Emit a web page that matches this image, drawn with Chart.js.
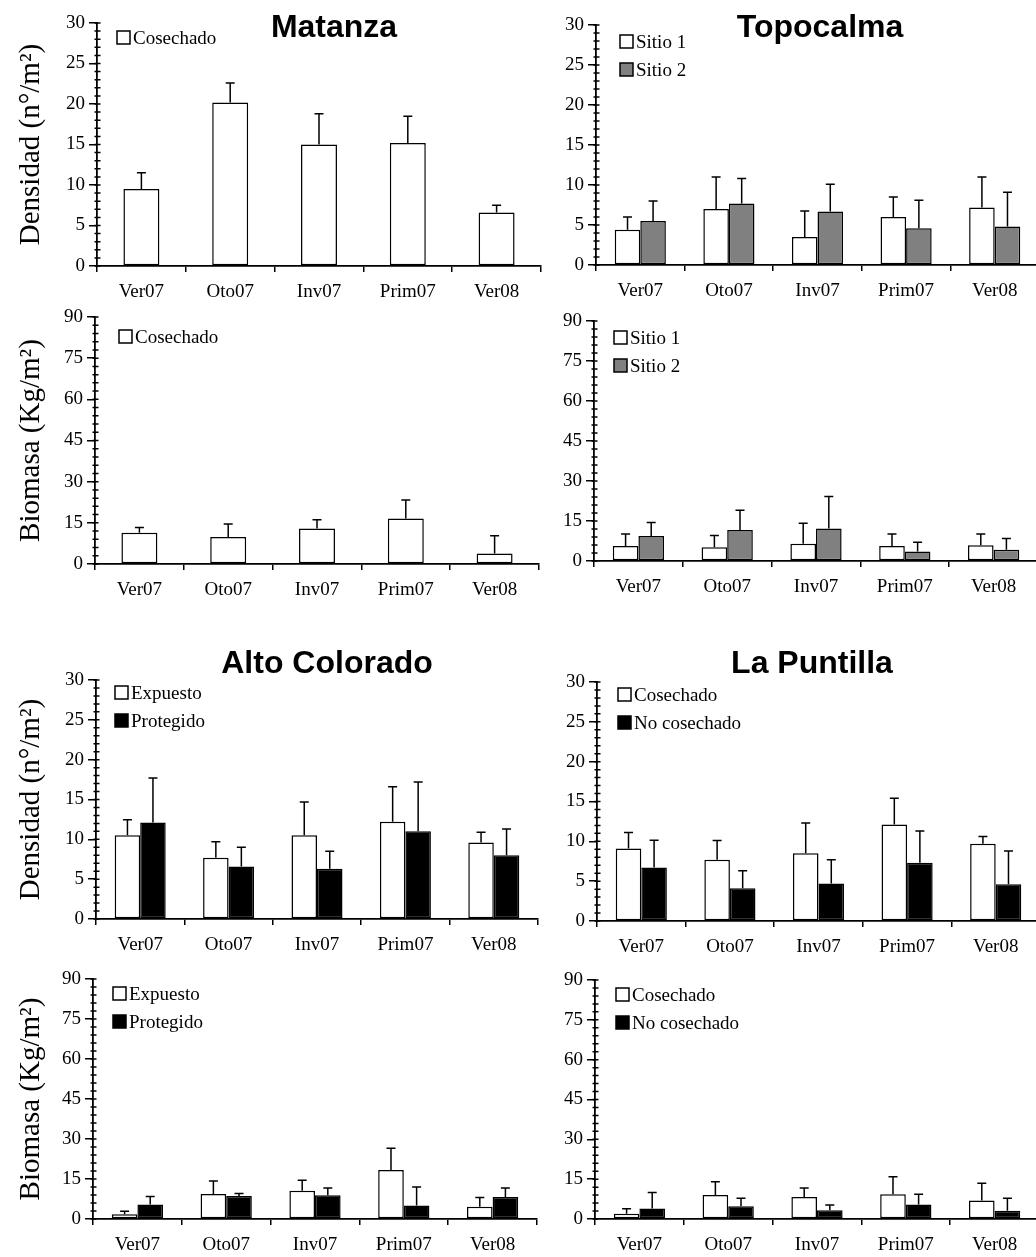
<!DOCTYPE html>
<html>
<head>
<meta charset="utf-8">
<script src="https://cdn.jsdelivr.net/npm/chart.js@4.4.0/dist/chart.umd.min.js"></script>
<style>
html, body { margin: 0; padding: 0; background: #fff; overflow: hidden; }
#page { position: relative; width: 1036px; height: 1257px; overflow: hidden; }
#page canvas { position: absolute; }
</style>
</head>
<body>
<div id="page"></div>
<script>
const categories = ['Ver07', 'Oto07', 'Inv07', 'Prim07', 'Ver08'];

// Matanza
const matanzaDens = [9.5, 20.2, 15.0, 15.2, 6.6];
const matanzaDensErr = [2.0, 2.4, 3.8, 3.3, 0.9];
const matanzaBio = [11.4, 9.8, 12.9, 16.6, 3.8];
const matanzaBioErr = [1.9, 4.8, 3.2, 6.7, 6.5];

// Topocalma
const topoDensS1 = [4.4, 7.0, 3.5, 6.0, 7.2];
const topoDensS1Err = [1.6, 4.0, 3.25, 2.5, 3.8];
const topoDensS2 = [5.5, 7.7, 6.7, 4.6, 4.8];
const topoDensS2Err = [2.5, 3.1, 3.4, 3.5, 4.3];
const topoBioS1 = [5.6, 5.2, 6.5, 5.6, 5.9];
const topoBioS1Err = [4.5, 4.4, 7.7, 4.5, 4.2];
const topoBioS2 = [9.4, 11.6, 12.2, 3.6, 4.2];
const topoBioS2Err = [5.0, 7.4, 12.0, 3.4, 4.2];

// Alto Colorado
const altoDensExp = [10.5, 7.7, 10.5, 12.2, 9.6];
const altoDensExpErr = [1.95, 2.0, 4.2, 4.4, 1.3];
const altoDensProt = [12.1, 6.6, 6.3, 11.0, 8.0];
const altoDensProtErr = [5.6, 2.4, 2.2, 6.2, 3.3];
const altoBioExp = [1.75, 9.4, 10.6, 18.4, 4.6];
const altoBioExpErr = [1.15, 4.85, 3.9, 8.1, 3.5];
const altoBioProt = [5.4, 8.6, 8.9, 5.1, 8.25];
const altoBioProtErr = [3.0, 1.0, 2.7, 6.9, 3.35];

// La Puntilla
const puntDensCos = [9.1, 7.7, 8.5, 12.1, 9.7];
const puntDensCosErr = [2.0, 2.4, 3.8, 3.3, 0.9];
const puntDensNo = [6.7, 4.1, 4.7, 7.3, 4.6];
const puntDensNoErr = [3.45, 2.2, 3.0, 4.0, 4.2];
const puntBioCos = [2.0, 9.0, 8.3, 9.3, 7.0];
const puntBioCosErr = [1.9, 5.0, 3.4, 6.6, 6.5];
const puntBioNo = [4.0, 4.8, 3.3, 5.5, 3.1];
const puntBioNoErr = [6.0, 3.0, 2.0, 3.8, 4.7];

const densTicks = { max: 30, step: 5, minor: 1 };
const bioTicks = { max: 90, step: 15, minor: 3 };

const serif = '"Liberation Serif", "Times New Roman", Times, serif';
const sans = '"Liberation Sans", Arial, Helvetica, sans-serif';
const WHITE = '#ffffff', GRAY = '#808080', BLACK = '#000000';

// layout of each panel: chart area [left, top, right, bottom] in page pixels
const panels = [
    { col: 0, area: [97, 23, 541, 266], axis: densTicks, yTitle: 'Densidad (n°/m²)',
      title: 'Matanza', titlePos: [334, 37], legendPos: [117, 31],
      series: [['Cosechado', matanzaDens, matanzaDensErr, WHITE]] },
    { col: 1, area: [596, 25, 1039, 265], axis: densTicks,
      title: 'Topocalma', titlePos: [820, 37], legendPos: [620, 35],
      series: [['Sitio 1', topoDensS1, topoDensS1Err, WHITE], ['Sitio 2', topoDensS2, topoDensS2Err, GRAY]] },
    { col: 0, area: [95, 317, 539, 564], axis: bioTicks, yTitle: 'Biomasa (Kg/m²)',
      legendPos: [119, 330],
      series: [['Cosechado', matanzaBio, matanzaBioErr, WHITE]] },
    { col: 1, area: [594, 321, 1038, 561], axis: bioTicks,
      legendPos: [614, 331],
      series: [['Sitio 1', topoBioS1, topoBioS1Err, WHITE], ['Sitio 2', topoBioS2, topoBioS2Err, GRAY]] },
    { col: 0, area: [96, 680, 538, 919], axis: densTicks, yTitle: 'Densidad (n°/m²)',
      title: 'Alto Colorado', titlePos: [327, 673], legendPos: [115, 686],
      series: [['Expuesto', altoDensExp, altoDensExpErr, WHITE], ['Protegido', altoDensProt, altoDensProtErr, BLACK]] },
    { col: 1, area: [597, 682, 1040, 921], axis: densTicks,
      title: 'La Puntilla', titlePos: [812, 673], legendPos: [618, 688],
      series: [['Cosechado', puntDensCos, puntDensCosErr, WHITE], ['No cosechado', puntDensNo, puntDensNoErr, BLACK]] },
    { col: 0, area: [93, 979, 537, 1219], axis: bioTicks, yTitle: 'Biomasa (Kg/m²)',
      legendPos: [113, 987],
      series: [['Expuesto', altoBioExp, altoBioExpErr, WHITE], ['Protegido', altoBioProt, altoBioProtErr, BLACK]] },
    { col: 1, area: [595, 980, 1039, 1219], axis: bioTicks,
      legendPos: [616, 988],
      series: [['Cosechado', puntBioCos, puntBioCosErr, WHITE], ['No cosechado', puntBioNo, puntBioNoErr, BLACK]] }
];

// error bars, inner minor ticks, panel title and legend
const panelDecor = {
    id: 'panelDecor',
    afterDatasetsDraw(chart, args, opts) {
        const ctx = chart.ctx;
        const yScale = chart.scales.y;
        ctx.save();
        ctx.strokeStyle = '#000';
        ctx.fillStyle = '#000';
        ctx.lineWidth = 1.5;

        chart.data.datasets.forEach((ds, i) => {
            chart.getDatasetMeta(i).data.forEach((bar, j) => {
                const top = yScale.getPixelForValue(ds.data[j] + ds.errors[j]);
                ctx.beginPath();
                ctx.moveTo(bar.x, bar.y);
                ctx.lineTo(bar.x, top);
                ctx.moveTo(bar.x - 4.5, top);
                ctx.lineTo(bar.x + 4.5, top);
                ctx.stroke();
            });
        });

        const ax = chart.chartArea.left;
        ctx.beginPath();
        for (let v = yScale.min; v <= yScale.max; v += opts.minorStep) {
            const py = yScale.getPixelForValue(v);
            ctx.moveTo(ax - 2.5, py);
            ctx.lineTo(ax + 3.5, py);
        }
        ctx.stroke();

        if (opts.title) {
            ctx.font = 'bold 32px ' + sans;
            ctx.textAlign = 'center';
            ctx.textBaseline = 'alphabetic';
            ctx.fillText(opts.title, opts.titleX, opts.titleY);
        }

        ctx.font = '19px ' + serif;
        ctx.textAlign = 'left';
        ctx.textBaseline = 'alphabetic';
        chart.data.datasets.forEach((ds, i) => {
            const bx = opts.legendX, by = opts.legendY + i * 28;
            ctx.fillStyle = ds.backgroundColor;
            ctx.fillRect(bx, by, 13, 13);
            ctx.strokeRect(bx, by, 13, 13);
            ctx.fillStyle = '#000';
            ctx.fillText(ds.label, bx + 16, by + 13);
        });
        ctx.restore();
    }
};

const page = document.getElementById('page');
const topPad = 45;

panels.forEach(p => {
    const [l, t, r, b] = p.area;
    const cx = p.col === 0 ? 0 : 545;
    const cy = t - topPad;
    const yWidth = l - cx;
    const xHeight = 45;
    const canvas = document.createElement('canvas');
    canvas.width = r - cx + 1;
    canvas.height = b - cy + xHeight;
    canvas.style.left = cx + 'px';
    canvas.style.top = cy + 'px';
    page.appendChild(canvas);

    const single = p.series.length === 1;
    const datasets = p.series.map(([label, data, errors, color]) => ({
        label: label,
        data: data,
        errors: errors,
        backgroundColor: color,
        borderColor: '#000',
        borderWidth: 1.5,
        borderSkipped: false,
        barPercentage: single ? 0.405 : 1,
        categoryPercentage: single ? 1 : 0.577
    }));

    new Chart(canvas, {
        type: 'bar',
        data: { labels: categories, datasets: datasets },
        plugins: [panelDecor],
        options: {
            responsive: false,
            animation: false,
            devicePixelRatio: 1,
            layout: { padding: { top: topPad, right: 1, bottom: 0, left: 0 } },
            plugins: {
                legend: { display: false },
                tooltip: { enabled: false },
                panelDecor: {
                    minorStep: p.axis.minor,
                    title: p.title,
                    titleX: p.titlePos ? p.titlePos[0] - cx : 0,
                    titleY: p.titlePos ? p.titlePos[1] - cy : 0,
                    legendX: p.legendPos[0] - cx,
                    legendY: p.legendPos[1] - cy
                }
            },
            scales: {
                x: {
                    grid: { offset: true, drawOnChartArea: false, tickLength: 6, color: '#000', lineWidth: 1.5 },
                    border: { color: '#000', width: 1.8 },
                    ticks: { font: { family: serif, size: 19 }, color: '#000', padding: 9, maxRotation: 0, autoSkip: false },
                    afterFit: s => { s.height = xHeight; }
                },
                y: {
                    min: 0,
                    max: p.axis.max,
                    grid: { drawOnChartArea: false, tickLength: 8, color: '#000', lineWidth: 1.5 },
                    border: { color: '#000', width: 1.8 },
                    ticks: { stepSize: p.axis.step, font: { family: serif, size: 19 }, color: '#000', padding: 4 },
                    title: {
                        display: !!p.yTitle,
                        text: p.yTitle || '',
                        font: { family: serif, size: 29, weight: 'normal' },
                        color: '#000',
                        padding: { top: 14, bottom: 0 }
                    },
                    afterFit: s => { s.width = yWidth; }
                }
            }
        }
    });
});
</script>
</body>
</html>
